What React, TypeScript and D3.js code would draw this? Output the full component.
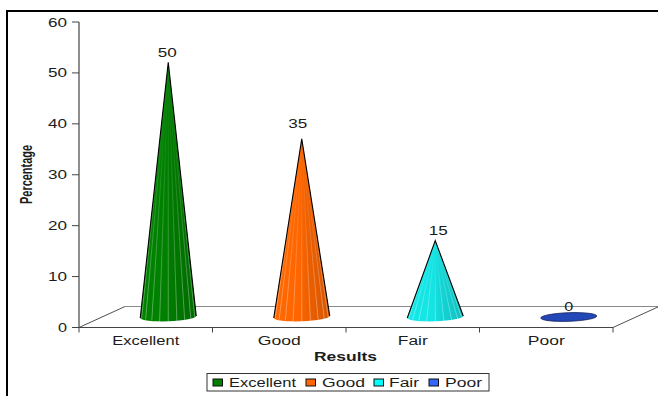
import React from "react";
import * as d3 from "d3";

const categories = ["Excellent", "Good", "Fair", "Poor"];
const percentages = [50, 35, 15, 0];
const coneColors = ["#008000", "#ff6600", "#14e4e4", "#2447b8"];
const legendColors = ["#008000", "#ff6600", "#00ffff", "#3366ff"];
const yTicks = [0, 10, 20, 30, 40, 50, 60];

const FONT = "'Liberation Sans', Arial, sans-serif";
const INK = "#1c1c1c";

// Chart area and the offset of the back wall of the 3-D floor
const plot = { left: 79, right: 613, top: 22, bottom: 327.5 };
const depth = { x: 46, y: -21 };
const coneDepth = { x: 22.5, y: -10.5 };
const coneRadius = 28;
const coneRy = 4.3;
const baseTilt = 1;

const x = d3.scaleBand<string>().domain(categories).range([plot.left, plot.right]);
const y = d3.scaleLinear().domain([0, 60]).range([plot.bottom, plot.top]);

// Angles around the cone's base where the light ribs meet the rim
const ribAngles = d3.range(1, 10).map((i) => (i / 10) * Math.PI);

// Legend rows: swatch left edge, label left edge, label width
const legendSlots = [
  { swatch: 213, text: 229, width: 67 },
  { swatch: 306, text: 322, width: 43 },
  { swatch: 374, text: 389, width: 30 },
  { swatch: 429, text: 445, width: 37 },
];
const categoryLabelWidths = [67, 43, 30, 37];
const valueLabelDx = [-1, -4, 3, 0];
const valueLabelDy = [1.5, -4, 1.5, 1];

function shade(color: string, k: number) {
  const c = d3.rgb(color);
  return k > 0 ? c.brighter(k).formatHex() : c.darker(-k).formatHex();
}

function Cone({ i }: { i: number }) {
  const cat = categories[i];
  const value = percentages[i];
  const color = coneColors[i];
  const cx = (x(cat) as number) + x.bandwidth() / 2 + coneDepth.x;
  const baseY = y(0) + coneDepth.y;
  const apexY = y(value) + coneDepth.y;
  const l = cx - coneRadius;
  const r = cx + coneRadius;
  const gradId = `cone-grad-${i}`;
  const ribId = `cone-rib-${i}`;
  const tiltDeg = (Math.atan2(-baseTilt, coneRadius) * 180) / Math.PI;

  if (value === 0) {
    return (
      <ellipse
        cx={cx}
        cy={baseY}
        rx={coneRadius}
        ry={coneRy}
        fill={color}
        stroke="#10205a"
        strokeWidth={0.8}
        transform={`rotate(${tiltDeg} ${cx} ${baseY})`}
      />
    );
  }

  const lY = baseY + baseTilt;
  const rY = baseY - baseTilt;
  const outline = `M${l},${lY}L${cx},${apexY}L${r},${rY}A${coneRadius},${coneRy} ${tiltDeg} 0 1 ${l},${lY}Z`;
  return (
    <g>
      <defs>
        <linearGradient id={gradId} x1="0" x2="1" y1="0" y2="0">
          <stop offset="0" stopColor={shade(color, 0.05)} />
          <stop offset="0.45" stopColor={color} />
          <stop offset="0.62" stopColor={shade(color, -0.2)} />
          <stop offset="1" stopColor={shade(color, -0.5)} />
        </linearGradient>
        <linearGradient id={ribId} gradientUnits="userSpaceOnUse" x1={cx} x2={cx} y1={apexY} y2={baseY}>
          <stop offset="0" stopColor="#fff" stopOpacity={0} />
          <stop offset="0.35" stopColor="#fff" stopOpacity={0.1} />
          <stop offset="1" stopColor="#fff" stopOpacity={0.38} />
        </linearGradient>
      </defs>
      <path d={outline} fill={`url(#${gradId})`} />
      {ribAngles.map((a) => (
        <path
          key={a}
          d={`M${cx},${apexY + 0.01}L${cx - Math.cos(a) * coneRadius},${baseY + Math.sin(a) * coneRy}`}
          fill="none"
          stroke={`url(#${ribId})`}
          strokeWidth={0.9}
        />
      ))}
      <path d={`M${l},${lY}L${cx},${apexY}L${r},${rY}`} fill="none" stroke="#000" strokeWidth={1.1} />
    </g>
  );
}

export default function App() {
  return (
    <svg
      width={658}
      height={396}
      style={{ position: "absolute", left: 0, top: 0, background: "#fff" }}
      fontFamily={FONT}
      fill={INK}
    >
      {/* outer frame: only the top and left edges fall inside the page */}
      <path d="M7,396V11H658" fill="none" stroke="#000" strokeWidth={2} />

      {/* floor of the 3-D plot */}
      <line
        x1={plot.left + depth.x}
        x2={658}
        y1={plot.bottom + depth.y}
        y2={plot.bottom + depth.y}
        stroke="#8a8a8a"
        strokeWidth={1.2}
      />
      <line x1={plot.left} y1={plot.bottom} x2={plot.left + depth.x} y2={plot.bottom + depth.y} stroke="#222" strokeWidth={0.8} />
      <line x1={plot.right} y1={plot.bottom} x2={plot.right + depth.x} y2={plot.bottom + depth.y} stroke="#222" strokeWidth={0.8} />

      {/* value axis */}
      <line x1={plot.left} x2={plot.left} y1={plot.top} y2={plot.bottom} stroke="#444" strokeWidth={1.2} />
      {yTicks.map((t) => (
        <g key={t}>
          <line x1={plot.left - 7} x2={plot.left} y1={y(t)} y2={y(t)} stroke="#444" strokeWidth={1} />
          <text x={plot.left - 12} y={y(t) + 4.5} textAnchor="end" fontSize={12.5} textLength={t === 0 ? 9 : 19} lengthAdjust="spacingAndGlyphs">
            {t}
          </text>
        </g>
      ))}

      {/* category axis */}
      <line x1={plot.left} x2={plot.right} y1={plot.bottom} y2={plot.bottom} stroke="#444" strokeWidth={1.2} />
      {[...categories.map((c) => x(c) as number), plot.right].map((px) => (
        <line key={px} x1={px} x2={px} y1={plot.bottom} y2={plot.bottom + 5} stroke="#444" strokeWidth={1} />
      ))}
      {categories.map((c, i) => (
        <text
          key={c}
          x={(x(c) as number) + x.bandwidth() / 2}
          y={345}
          textAnchor="middle"
          fontSize={12.5}
          textLength={categoryLabelWidths[i]}
          lengthAdjust="spacingAndGlyphs"
        >
          {c}
        </text>
      ))}

      {/* cones */}
      {categories.map((c, i) => (
        <Cone key={c} i={i} />
      ))}

      {/* value labels */}
      {categories.map((c, i) => (
        <text
          key={c}
          x={(x(c) as number) + x.bandwidth() / 2 + coneDepth.x + valueLabelDx[i]}
          y={y(percentages[i]) + coneDepth.y - 7 + valueLabelDy[i]}
          textAnchor="middle"
          fontSize={12.5}
          textLength={percentages[i] === 0 ? 9 : 19}
          lengthAdjust="spacingAndGlyphs"
        >
          {percentages[i]}
        </text>
      ))}

      {/* axis titles */}
      <text x={345.5} y={361} textAnchor="middle" fontSize={12} fontWeight="bold" textLength={63} lengthAdjust="spacingAndGlyphs">
        Results
      </text>
      <text
        transform="translate(32,174.5) rotate(-90)"
        textAnchor="middle"
        fontSize={16}
        fontWeight="bold"
        textLength={59}
        lengthAdjust="spacingAndGlyphs"
      >
        Percentage
      </text>

      {/* legend */}
      <rect x={207} y={373.5} width={282} height={17.5} fill="#fff" stroke="#333" strokeWidth={1} />
      {categories.map((c, i) => (
        <g key={c}>
          <rect x={legendSlots[i].swatch} y={379} width={9.5} height={7} fill={legendColors[i]} stroke="#111" strokeWidth={1} />
          <text x={legendSlots[i].text} y={386.5} fontSize={12.5} textLength={legendSlots[i].width} lengthAdjust="spacingAndGlyphs">
            {c}
          </text>
        </g>
      ))}
    </svg>
  );
}
